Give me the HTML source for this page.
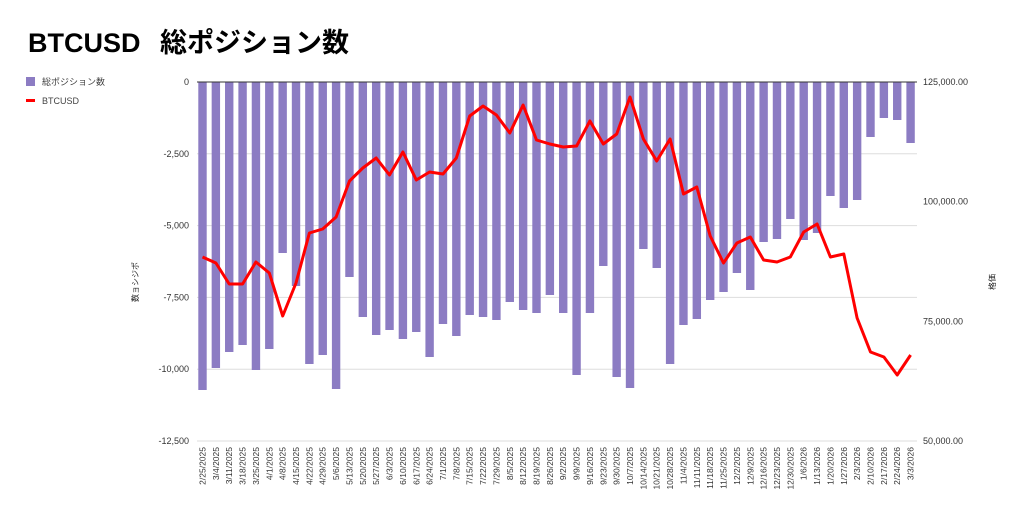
<!DOCTYPE html>
<html><head><meta charset="utf-8"><style>
body{margin:0;background:#fff;width:1024px;height:523px;overflow:hidden}
svg text{font-family:"Liberation Sans","Noto Sans CJK JP",sans-serif}
</style></head><body>
<svg id="s" width="1024" height="523" xmlns="http://www.w3.org/2000/svg">
<text x="28" y="52" font-size="27" font-weight="bold" fill="#000">BTCUSD</text>
<text x="160" y="52" font-size="27" font-weight="bold" fill="#000">総ポジション数</text>
<rect x="26" y="77" width="9" height="9" fill="#8c7cc3"/>
<text x="42" y="85" font-size="9" fill="#444">総ポジション数</text>
<rect x="26" y="99" width="9" height="3" fill="#f00"/>
<text x="42" y="104" font-size="9" fill="#444">BTCUSD</text>
<text transform="translate(138,282) rotate(-90)" font-size="8" fill="#222" text-anchor="middle">数ョシジポ</text>
<text transform="translate(995,282) rotate(-90)" font-size="8" fill="#222" text-anchor="middle">格価</text>
</svg>
<script>
var s=document.getElementById('s'),NS='http://www.w3.org/2000/svg';
function el(t,a,txt){var e=document.createElementNS(NS,t);for(var k in a)e.setAttribute(k,a[k]);if(txt!=null)e.textContent=txt;s.appendChild(e);return e;}
var L=['0','-2,500','-5,000','-7,500','-10,000','-12,500'],R=['125,000.00','100,000.00','75,000.00','50,000.00'];
for(var i=0;i<6;i++){var y=82+i*71.8;if(i>0)el('line',{x1:197,x2:917,y1:y,y2:y,stroke:'#ddd','stroke-width':1});el('text',{x:189,y:y+3,'font-size':9,'text-anchor':'end',fill:'#333'},L[i]);}
for(var i=0;i<4;i++){var y=82+i*119.67;el('text',{x:923,y:y+3,'font-size':9,fill:'#333'},R[i]);}
var b=[390,368,352,345,370,349,253,286,364,355,389,277,317,335,330,339,332,357,324,336,315,317,320,302,310,313,295,313,375,313,266,377,388,249,268,364,325,319,300,292,273,290,242,239,219,240,233,196,208,200,137,118,120,143];
var l=[257,263,284,284,262,273,316,283,233,229,217,181,168,158,175,152,180,172,174,158,116,106,115,133,105,140,144,147,146,121,144,134,97,139,161,139,194,187,236,263,243,237,260,262,257,232,224,257,254,318,352,357,375,355];
var d=new Date(2025,1,25),pts=[];
for(var i=0;i<54;i++){var x=202.5+i*13.36;
el('rect',{x:x-4.2,y:82,width:8.4,height:b[i]-82,fill:'#8c7cc3'});
pts.push(x.toFixed(1)+','+l[i]);
var lab=(d.getMonth()+1)+'/'+d.getDate()+'/'+d.getFullYear();
el('text',{transform:'translate('+(x+3)+',447) rotate(-90)','font-size':8.5,'text-anchor':'end',fill:'#333'},lab);
d.setDate(d.getDate()+7);}
el('line',{x1:197,x2:917,y1:82,y2:82,stroke:'#333','stroke-width':1});
el('polyline',{points:pts.join(' '),fill:'none',stroke:'#f00','stroke-width':3,'stroke-linejoin':'round'});
</script>
</body></html>
